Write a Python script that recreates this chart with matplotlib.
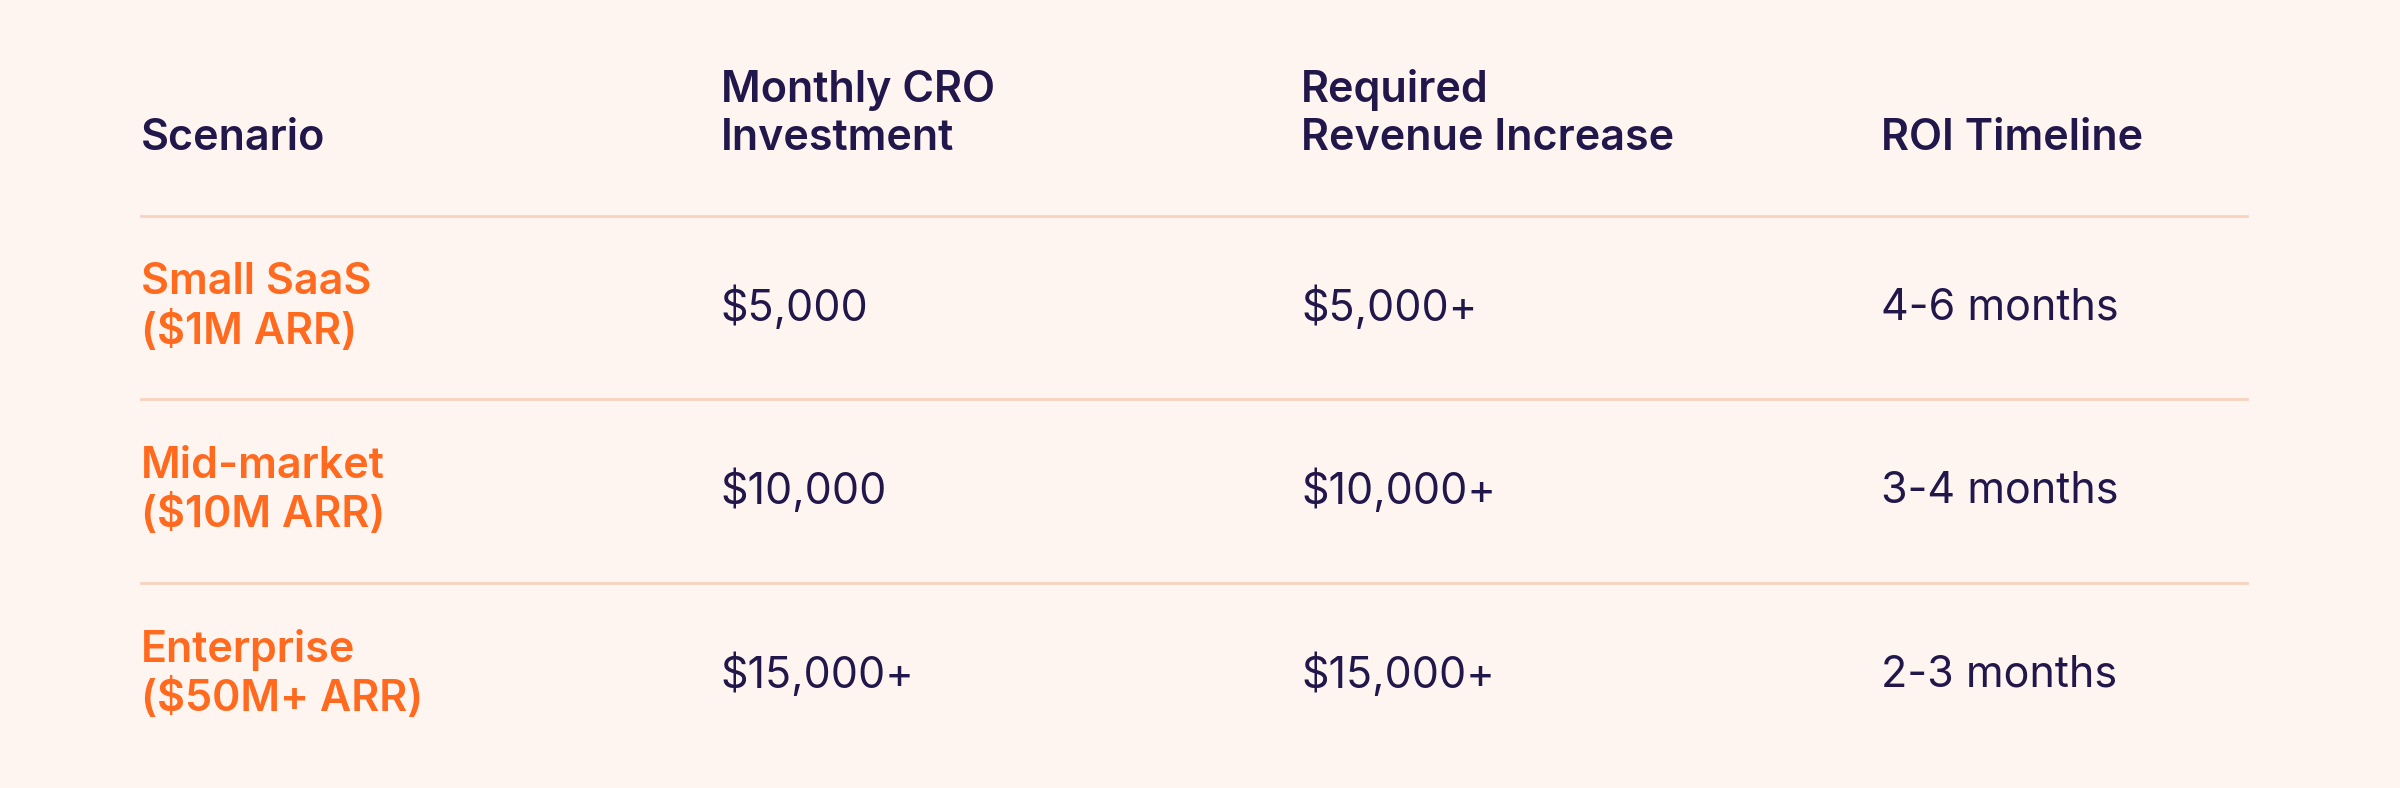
import matplotlib.pyplot as plt
from matplotlib.lines import Line2D

headers = ['Scenario', 'Monthly CRO\nInvestment', 'Required\nRevenue Increase', 'ROI Timeline']
scenarios = ['Small SaaS\n($1M ARR)', 'Mid-market\n($10M ARR)', 'Enterprise\n($50M+ ARR)']
investment = ['$5,000', '$10,000', '$15,000+']
revenue = ['$5,000+', '$10,000+', '$15,000+']
timeline = ['4-6 months', '3-4 months', '2-3 months']

BG = '#fef5f1'
NAVY = '#22174a'
ORANGE = '#ff6a1f'
RULE = '#f7d3bf'

W, H = 1568, 515  # layout in reference display units
col_x = [92, 471, 850, 1229]
header_bottom = 104
row_y = [201, 321, 441]
rule_y = [141, 261, 381]


def fx(x):
    return x / W


def fy(y):
    return 1 - y / H


fig = plt.figure(figsize=(24, 7.88), dpi=100, facecolor=BG)
plt.rcParams['font.family'] = 'Inter'

for x, h in zip(col_x, headers):
    fig.text(fx(x), fy(header_bottom), h, color=NAVY, fontsize=31, fontweight='semibold',
             va='bottom', ha='left', linespacing=1.22)

for y in rule_y:
    fig.add_artist(Line2D([fx(92), fx(1468)], [fy(y), fy(y)], color=RULE, lw=2))

for i, y in enumerate(row_y):
    fig.text(fx(col_x[0]), fy(y), scenarios[i], color=ORANGE, fontsize=31,
             fontweight='semibold', va='center', ha='left', linespacing=1.22)
    for x, val in zip(col_x[1:], [investment[i], revenue[i], timeline[i]]):
        fig.text(fx(x), fy(y), val, color=NAVY, fontsize=31, va='center', ha='left')

fig.savefig('out.png', facecolor=BG)
